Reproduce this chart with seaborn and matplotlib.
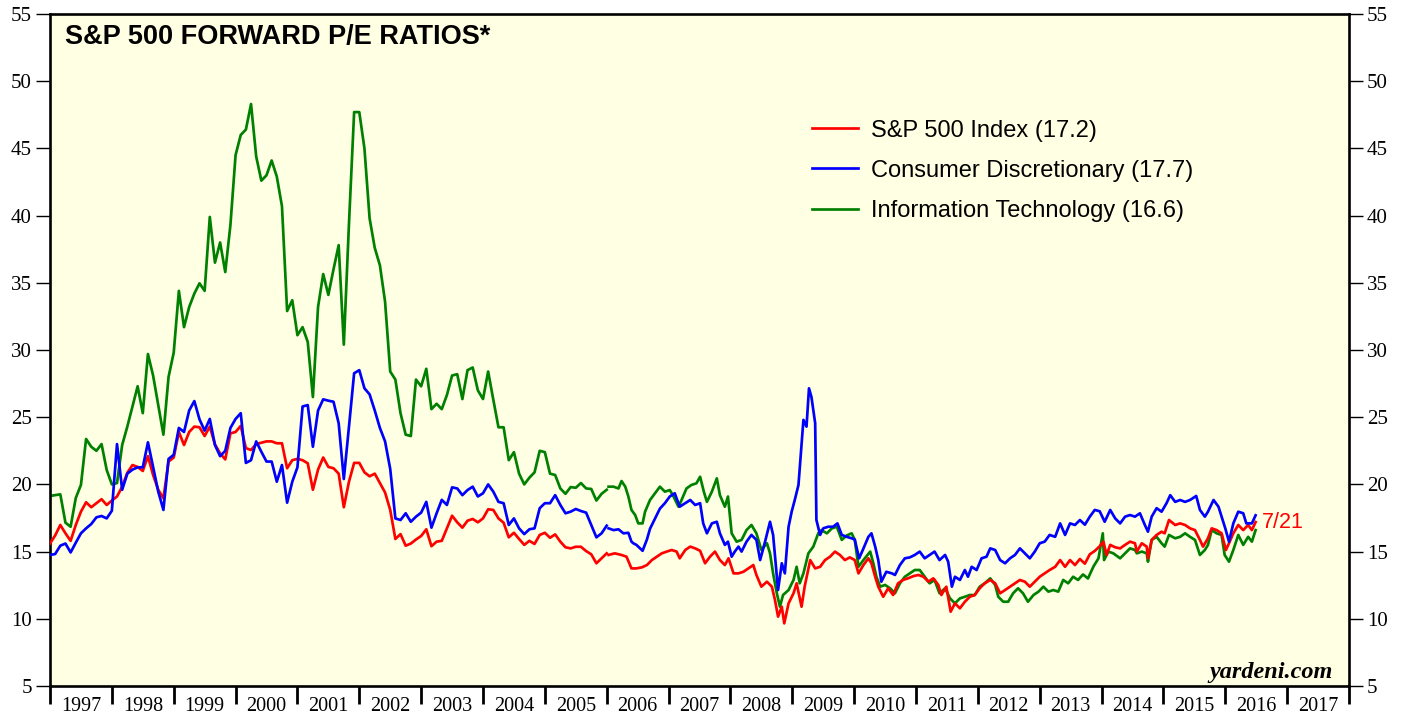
import numpy as np
import pandas as pd
import seaborn as sns
import matplotlib
matplotlib.use('Agg')
import matplotlib.pyplot as plt
from matplotlib.lines import Line2D

# ---- monthly readings, Jan 1997 .. Jan 2006 ----
spx_m = [15.6, 16.2, 16.98, 16.36, 15.8, 16.98, 17.97, 18.67, 18.3, 18.6, 18.9, 18.47,
         18.8, 19.1, 19.83, 20.87, 21.44, 21.3, 21.0, 22.1, 20.7, 19.6, 18.96, 21.7,
         22.0, 23.9, 22.93, 23.9, 24.3, 24.25, 23.6, 24.3, 22.98, 22.3, 21.86, 23.8,
         23.9, 24.35, 22.7, 22.56, 23.0, 23.1, 23.2, 23.2, 23.06, 23.06, 21.2, 21.8,
         21.9, 21.8, 21.57, 19.6, 21.1, 22.0, 21.3, 21.2, 20.8, 18.3, 20.2, 21.6,
         21.6, 20.9, 20.6, 20.8, 20.1, 19.4, 18.1, 15.94, 16.3, 15.44, 15.6, 15.9,
         16.16, 16.66, 15.4, 15.74, 15.8, 16.73, 17.67, 17.18, 16.78, 17.3, 17.43, 17.18,
         17.47, 18.15, 18.1, 17.47, 17.15, 16.06, 16.4, 15.94, 15.5, 15.8, 15.57, 16.24,
         16.4, 16.03, 16.28, 15.74, 15.32, 15.24, 15.36, 15.36, 15.04, 14.8, 14.13, 14.5,
         14.87]
cd_m = [14.75, 14.82, 15.44, 15.6, 14.94, 15.66, 16.36, 16.73, 17.05, 17.55, 17.65, 17.47,
        18.04, 23.0, 19.6, 20.8, 21.1, 21.27, 21.27, 23.13, 21.3, 19.46, 18.1, 21.9,
        22.2, 24.2, 23.9, 25.5, 26.2, 24.84, 24.0, 24.87, 22.93, 22.1, 22.5, 24.2,
        24.87, 25.3, 21.6, 21.8, 23.2, 22.43, 21.7, 21.7, 20.2, 21.44, 18.64, 20.2,
        21.27, 25.8, 25.9, 22.8, 25.5, 26.33, 26.23, 26.15, 24.55, 20.4, 24.3, 28.27,
        28.5, 27.15, 26.7, 25.5, 24.2, 23.2, 21.15, 17.47, 17.35, 17.85, 17.22, 17.6,
        17.9, 18.7, 16.78, 17.85, 18.85, 18.47, 19.78, 19.7, 19.2, 19.58, 19.83, 19.1,
        19.34, 20.0, 19.46, 18.7, 18.6, 16.98, 17.47, 16.73, 16.3, 16.66, 16.73, 18.23,
        18.6, 18.6, 19.2, 18.47, 17.85, 17.97, 18.17, 18.02, 17.9, 16.98, 16.06, 16.36,
        16.93]
it_m = [19.14, 19.2, 19.26, 17.15, 16.85, 18.99, 19.96, 23.38, 22.8, 22.5, 23.0, 21.07,
        20.0, 20.1, 22.93, 24.3, 25.8, 27.3, 25.3, 29.7, 28.1, 25.9, 23.7, 28.0,
        29.8, 34.4, 31.7, 33.2, 34.2, 34.96, 34.4, 39.9, 36.5, 38.0, 35.8, 39.3,
        44.5, 46.0, 46.4, 48.3, 44.4, 42.6, 43.0, 44.1, 42.9, 40.7, 32.9, 33.7,
        31.1, 31.7, 30.6, 26.5, 33.2, 35.65, 34.1, 36.0, 37.8, 30.4, 39.4, 47.7,
        47.7, 45.0, 39.8, 37.6, 36.3, 33.6, 28.4, 27.8, 25.3, 23.7, 23.6, 27.8,
        27.3, 28.6, 25.6, 26.0, 25.6, 26.65, 28.1, 28.2, 26.35, 28.5, 28.7, 27.0,
        26.35, 28.4, 26.3, 24.25, 24.25, 21.8, 22.4, 20.8, 20.0, 20.5, 20.9, 22.5,
        22.4, 20.8, 20.7, 19.7, 19.3, 19.8, 19.75, 20.1, 19.7, 19.66, 18.8, 19.3,
        19.6]

# ---- weekly readings 2006 .. 7/21/2016 (decimal years) ----
spx_w_t = [2006.03, 2006.13, 2006.24, 2006.32, 2006.40, 2006.48, 2006.57, 2006.65, 2006.73, 2006.81, 2006.89, 2006.97,
           2007.05, 2007.13, 2007.18, 2007.27, 2007.35, 2007.43, 2007.51, 2007.59, 2007.67, 2007.75, 2007.83, 2007.91, 2007.97,
           2008.05, 2008.13, 2008.21, 2008.29, 2008.37, 2008.42, 2008.50, 2008.59, 2008.67, 2008.72, 2008.77, 2008.83, 2008.87, 2008.94,
           2009.02, 2009.07, 2009.15, 2009.20, 2009.29, 2009.37, 2009.45, 2009.53, 2009.61, 2009.69, 2009.77, 2009.85, 2009.93,
           2010.01, 2010.07, 2010.15, 2010.23, 2010.28, 2010.34, 2010.39, 2010.47, 2010.55, 2010.63, 2010.71, 2010.79, 2010.87, 2010.96,
           2011.04, 2011.12, 2011.20, 2011.28, 2011.36, 2011.41, 2011.49, 2011.56, 2011.63, 2011.71, 2011.79, 2011.87, 2011.95,
           2012.03, 2012.11, 2012.20, 2012.28, 2012.36, 2012.44, 2012.52, 2012.60, 2012.68, 2012.76, 2012.84, 2012.92,
           2013.00, 2013.08, 2013.16, 2013.25, 2013.33, 2013.41, 2013.49, 2013.57, 2013.65, 2013.73, 2013.81, 2013.89, 2013.97,
           2014.03, 2014.08, 2014.14, 2014.22, 2014.30, 2014.38, 2014.46, 2014.54, 2014.57, 2014.65, 2014.73, 2014.75, 2014.81, 2014.89, 2014.97,
           2015.02, 2015.09, 2015.19, 2015.27, 2015.35, 2015.43, 2015.51, 2015.59, 2015.64, 2015.72, 2015.78, 2015.86, 2015.94,
           2016.01, 2016.06, 2016.13, 2016.21, 2016.29, 2016.37, 2016.43, 2016.49]
spx_w = [14.75, 14.87, 14.75, 14.62, 13.75, 13.75, 13.83, 14.0, 14.37, 14.62, 14.87, 15.0,
         15.12, 15.0, 14.5, 15.12, 15.37, 15.24, 15.06, 14.13, 14.62, 15.0, 14.37, 14.0, 14.5,
         13.38, 13.38, 13.5, 13.75, 14.0, 13.26, 12.39, 12.76, 12.39, 11.4, 10.16, 10.9, 9.66, 11.15,
         11.9, 12.64, 10.9, 12.4, 14.37, 13.75, 13.87, 14.37, 14.62, 15.0, 14.75, 14.37, 14.57,
         14.37, 13.38, 14.0, 14.5, 14.13, 13.13, 12.39, 11.64, 12.27, 11.77, 12.64, 12.89, 13.01, 13.18,
         13.26, 13.13, 12.76, 13.01, 12.52, 11.77, 12.39, 10.53, 11.15, 10.78, 11.27, 11.64, 11.77,
         12.27, 12.64, 12.89, 12.64, 11.9, 12.14, 12.39, 12.64, 12.89, 12.76, 12.39, 12.76,
         13.13, 13.38, 13.63, 13.87, 14.37, 13.87, 14.37, 14.0, 14.45, 14.1, 14.8, 15.05, 15.4,
         15.74, 14.75, 15.5, 15.32, 15.24, 15.5, 15.74, 15.62, 15.0, 15.62, 15.37, 14.5, 15.87, 16.24, 16.48,
         16.36, 17.35, 16.98, 17.1, 16.98, 16.73, 16.6, 15.87, 15.37, 15.99, 16.73, 16.6, 16.36,
         15.12, 15.62, 16.36, 16.98, 16.6, 16.98, 16.6, 17.2]

cd_w_t = [2006.03, 2006.11, 2006.19, 2006.27, 2006.35, 2006.40, 2006.43, 2006.48, 2006.51, 2006.57, 2006.58, 2006.65, 2006.70, 2006.78, 2006.86, 2006.94,
          2007.02, 2007.10, 2007.18, 2007.27, 2007.35, 2007.43, 2007.51, 2007.56, 2007.62, 2007.70, 2007.78, 2007.83, 2007.91, 2007.96,
          2008.02, 2008.07, 2008.13, 2008.18, 2008.26, 2008.34, 2008.42, 2008.48, 2008.56, 2008.64, 2008.69, 2008.75, 2008.77, 2008.83, 2008.88, 2008.94, 2008.99,
          2009.04, 2009.10, 2009.18, 2009.23, 2009.27, 2009.31, 2009.37, 2009.39, 2009.45, 2009.50, 2009.58, 2009.66, 2009.73, 2009.80, 2009.88, 2009.96,
          2010.01, 2010.08, 2010.14, 2010.23, 2010.28, 2010.34, 2010.39, 2010.44, 2010.52, 2010.61, 2010.66, 2010.74, 2010.82, 2010.90, 2010.98,
          2011.06, 2011.14, 2011.22, 2011.30, 2011.38, 2011.47, 2011.52, 2011.58, 2011.63, 2011.71, 2011.79, 2011.84, 2011.90, 2011.98,
          2012.06, 2012.14, 2012.20, 2012.28, 2012.36, 2012.44, 2012.52, 2012.60, 2012.68, 2012.76, 2012.84, 2012.92,
          2013.00, 2013.08, 2013.16, 2013.25, 2013.33, 2013.41, 2013.49, 2013.57, 2013.65, 2013.73, 2013.81, 2013.89, 2013.97,
          2014.05, 2014.14, 2014.22, 2014.30, 2014.38, 2014.46, 2014.54, 2014.62, 2014.70, 2014.75, 2014.81, 2014.89, 2014.97,
          2015.05, 2015.11, 2015.19, 2015.27, 2015.35, 2015.43, 2015.53, 2015.59, 2015.67, 2015.72, 2015.81, 2015.89, 2015.94,
          2016.00, 2016.06, 2016.13, 2016.21, 2016.29, 2016.34, 2016.43, 2016.49]
cd_w = [16.73, 16.6, 16.66, 16.36, 16.4, 15.74, 15.62, 15.5, 15.37, 15.12, 15.06, 15.9, 16.7, 17.45, 18.2, 18.6,
        19.1, 19.34, 18.34, 18.6, 18.84, 18.47, 18.6, 17.1, 16.36, 17.1, 17.22, 16.36, 15.5, 15.74,
        14.62, 15.0, 15.37, 15.0, 15.74, 16.24, 15.87, 14.37, 15.74, 17.22, 16.24, 13.13, 12.14, 14.13, 13.38, 16.85, 17.97,
        18.84, 19.96, 24.8, 24.3, 27.15, 26.5, 24.55, 17.35, 16.24, 16.73, 16.85, 16.85, 17.1, 16.24, 16.1, 15.99,
        15.9, 14.5, 15.12, 16.1, 16.36, 15.37, 14.37, 12.76, 13.5, 13.38, 13.26, 14.0, 14.5, 14.57, 14.75,
        15.0, 14.5, 14.75, 15.0, 14.37, 14.75, 14.25, 12.39, 13.13, 12.89, 13.63, 13.13, 13.87, 13.63,
        14.5, 14.62, 15.24, 15.12, 14.37, 14.13, 14.5, 14.75, 15.24, 14.87, 14.5, 15.0,
        15.62, 15.74, 16.24, 16.1, 17.1, 16.24, 17.1, 16.98, 17.35, 17.0, 17.6, 18.1, 18.0,
        17.22, 18.1, 17.47, 17.1, 17.6, 17.72, 17.6, 17.85, 16.98, 16.48, 17.6, 18.23, 17.97,
        18.6, 19.2, 18.7, 18.84, 18.7, 18.84, 19.14, 18.1, 17.6, 17.97, 18.84, 18.34, 17.6,
        16.73, 15.74, 17.1, 17.97, 17.85, 17.1, 17.1, 17.7]

it_w_t = [2006.03, 2006.11, 2006.19, 2006.24, 2006.30, 2006.35, 2006.40, 2006.46, 2006.51, 2006.58, 2006.62, 2006.70, 2006.78, 2006.86, 2006.94,
          2007.02, 2007.08, 2007.16, 2007.21, 2007.29, 2007.37, 2007.45, 2007.51, 2007.57, 2007.62, 2007.70, 2007.78, 2007.83, 2007.91, 2007.96,
          2008.02, 2008.10, 2008.18, 2008.26, 2008.34, 2008.42, 2008.50, 2008.59, 2008.64, 2008.69, 2008.75, 2008.80, 2008.85, 2008.94,
          2009.02, 2009.07, 2009.12, 2009.18, 2009.26, 2009.34, 2009.42, 2009.47, 2009.56, 2009.64, 2009.72, 2009.80, 2009.88, 2009.96,
          2010.01, 2010.07, 2010.15, 2010.26, 2010.31, 2010.36, 2010.42, 2010.50, 2010.58, 2010.66, 2010.74, 2010.82, 2010.90, 2010.98,
          2011.06, 2011.14, 2011.22, 2011.30, 2011.38, 2011.47, 2011.55, 2011.63, 2011.71, 2011.79, 2011.87, 2011.95,
          2012.03, 2012.11, 2012.20, 2012.28, 2012.33, 2012.41, 2012.49, 2012.57, 2012.65, 2012.73, 2012.81, 2012.90, 2012.98,
          2013.06, 2013.14, 2013.22, 2013.30, 2013.38, 2013.46, 2013.54, 2013.62, 2013.70, 2013.78, 2013.87, 2013.95,
          2014.02, 2014.04, 2014.11, 2014.19, 2014.30, 2014.38, 2014.46, 2014.54, 2014.57, 2014.65, 2014.73, 2014.75, 2014.81, 2014.89, 2014.97,
          2015.02, 2015.09, 2015.19, 2015.27, 2015.35, 2015.43, 2015.51, 2015.59, 2015.67, 2015.72, 2015.78, 2015.86, 2015.94, 2015.99,
          2016.06, 2016.13, 2016.21, 2016.29, 2016.37, 2016.43, 2016.49]
it_w = [19.83, 19.83, 19.7, 20.25, 19.83, 19.1, 18.1, 17.72, 17.1, 17.1, 17.97, 18.84, 19.34, 19.83, 19.46,
        19.58, 19.1, 18.34, 18.84, 19.7, 19.96, 20.08, 20.57, 19.46, 18.7, 19.46, 20.45, 19.2, 18.34, 19.1,
        16.36, 15.74, 15.87, 16.6, 16.98, 16.36, 15.12, 15.62, 14.87, 13.38, 11.9, 10.9, 11.77, 12.14,
        12.89, 13.87, 12.64, 13.38, 14.87, 15.37, 16.36, 16.6, 16.36, 16.73, 16.85, 15.87, 16.2, 16.36,
        15.87, 13.87, 14.37, 15.0, 14.13, 13.13, 12.39, 12.52, 12.27, 11.9, 12.64, 13.13, 13.38, 13.63,
        13.63, 13.13, 12.64, 12.89, 11.9, 12.27, 11.52, 11.15, 11.52, 11.64, 11.77, 11.77,
        12.39, 12.64, 13.01, 12.52, 11.64, 11.27, 11.27, 11.9, 12.27, 11.9, 11.27, 11.77, 12.02,
        12.39, 12.02, 12.14, 12.02, 12.89, 12.64, 13.13, 12.89, 13.3, 13.0, 13.9, 14.5,
        16.36, 14.37, 15.0, 14.87, 14.5, 14.87, 15.24, 15.12, 14.87, 15.0, 14.87, 14.25, 15.87, 16.1, 15.62,
        15.37, 16.24, 15.99, 16.1, 16.36, 16.1, 15.87, 14.75, 15.12, 15.5, 16.6, 16.36, 16.24, 14.75,
        14.25, 15.12, 16.24, 15.5, 16.1, 15.74, 16.6]

names = ['S&P 500 Index (17.2)', 'Consumer Discretionary (17.7)', 'Information Technology (16.6)']
colors = ['#ff0000', '#0000ff', '#008000']
month_t = 1997 + np.arange(len(spx_m)) / 12

frames = []
for name, m, wt, w in [(names[0], spx_m, spx_w_t, spx_w),
                       (names[1], cd_m, cd_w_t, cd_w),
                       (names[2], it_m, it_w_t, it_w)]:
    frames.append(pd.DataFrame({'year': month_t, 'pe': m, 'seg': 0, 'series': name}))
    frames.append(pd.DataFrame({'year': wt, 'pe': w, 'seg': 1, 'series': name}))
df = pd.concat(frames, ignore_index=True)

plt.rcParams['font.family'] = ['Liberation Serif', 'DejaVu Serif']
sans = ['Liberation Sans', 'DejaVu Sans']

fig = plt.figure(figsize=(14.05, 7.17), dpi=100)
ax = fig.add_axes([50 / 1405, 31 / 717, 1299 / 1405, 672 / 717])
ax.set_facecolor('#ffffe3')

# green first, blue on top
for name, col, z in [(names[2], colors[2], 2), (names[0], colors[0], 3), (names[1], colors[1], 4)]:
    sns.lineplot(data=df[df['series'] == name], x='year', y='pe', units='seg', estimator=None,
                 color=col, lw=1.95, ax=ax, legend=False, zorder=z)

ax.set_xlim(1997, 2018)
ax.set_ylim(5, 55)
ax.set_xlabel('')
ax.set_ylabel('')

for s in ax.spines.values():
    s.set_linewidth(1.9)
    s.set_color('black')

ax.set_yticks(range(5, 56, 5))
ax.tick_params(axis='y', direction='out', length=10, width=1, left=True, right=True,
               labelleft=True, labelright=True, labelsize=15, pad=3)

years = list(range(1997, 2018))
ax.set_xticks(list(range(1997, 2019)))
ax.set_xticklabels([])
ax.set_xticks([y + 0.5 for y in years], minor=True)
ax.set_xticklabels([str(y) for y in years], minor=True)
ax.tick_params(axis='x', which='major', direction='out', length=13, width=2)
ax.tick_params(axis='x', which='minor', length=0, labelsize=14.5, pad=8)

ax.text(0.0115, 0.955, 'S&P 500 FORWARD P/E RATIOS*', transform=ax.transAxes,
        fontsize=19.5, fontweight='bold', family=sans, va='baseline')

handles = [Line2D([], [], color=c, lw=1.95) for c in colors]
ax.legend(handles, names, loc='upper left', bbox_to_anchor=(0.5866, 0.843), frameon=False,
          prop={'family': sans, 'size': 17},
          handlelength=1.95, handletextpad=0.55, labelspacing=0.77, borderpad=0, borderaxespad=0)

ax.text(2016.59, 17.15, '7/21', color='#ff0000', fontsize=15.5, va='center', family=sans)
ax.text(0.9877, 0.012, 'yardeni.com', transform=ax.transAxes, ha='right', va='baseline',
        fontsize=17.5, fontweight='bold', style='italic')

fig.savefig('out.png', dpi=100, facecolor='white')
